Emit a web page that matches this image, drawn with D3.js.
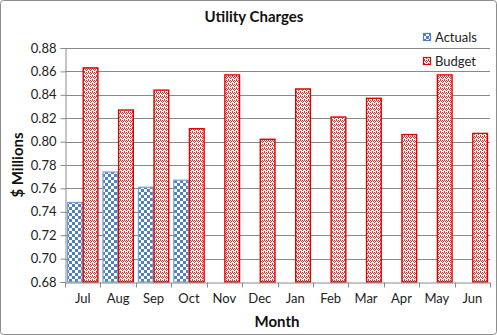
<!DOCTYPE html>
<html>
<head>
<meta charset="utf-8">
<script src="https://cdn.jsdelivr.net/npm/d3@7"></script>
<style>
  html, body { margin: 0; padding: 0; background: #fff; }
  svg { display: block; font-family: Lato, "Open Sans", "Liberation Sans", sans-serif; }
</style>
</head>
<body>
<svg id="chart" width="497" height="335"></svg>
<script>
// Monthly utility charges, $ millions
const months = ["Jul", "Aug", "Sep", "Oct", "Nov", "Dec", "Jan", "Feb", "Mar", "Apr", "May", "Jun"];
const actuals = [0.748, 0.774, 0.761, 0.767, null, null, null, null, null, null, null, null];
const budget = [0.863, 0.827, 0.844, 0.811, 0.857, 0.802, 0.845, 0.821, 0.837, 0.806, 0.857, 0.807];
const yTicks = [0.68, 0.70, 0.72, 0.74, 0.76, 0.78, 0.80, 0.82, 0.84, 0.86, 0.88];
const seriesNames = ["Actuals", "Budget"];

const svg = d3.select("#chart");
const margin = { left: 65, right: 7, top: 48, bottom: 53 };
const W = 497, H = 335;

// Fill patterns
const defs = svg.append("defs");
const checker = defs.append("pattern").attr("id", "checker")
  .attr("patternUnits", "userSpaceOnUse").attr("width", 6).attr("height", 6);
checker.append("rect").attr("width", 6).attr("height", 6).attr("fill", "#fff");
checker.append("rect").attr("width", 3).attr("height", 3).attr("fill", "#4f81bd");
checker.append("rect").attr("x", 3).attr("y", 3).attr("width", 3).attr("height", 3).attr("fill", "#4f81bd");

const weave = defs.append("pattern").attr("id", "weave")
  .attr("patternUnits", "userSpaceOnUse").attr("width", 4).attr("height", 4);
weave.append("rect").attr("width", 4).attr("height", 4).attr("fill", "#fff");
[[0,0],[1,1],[2,2],[3,1],[0,3],[2,0]].forEach(([px, py]) =>
  weave.append("rect").attr("x", px).attr("y", py).attr("width", 1).attr("height", 1).attr("fill", "#e03030"));

// Outer frame
svg.append("rect").attr("x", 0.5).attr("y", 0.5).attr("width", W - 1).attr("height", H - 1)
  .attr("rx", 3).attr("fill", "#fff").attr("stroke", "#8c8c8c");

const x = d3.scaleBand().domain(months).range([margin.left, W - margin.right]).paddingInner(0).paddingOuter(0);
const y = d3.scaleLinear().domain([0.68, 0.88]).range([H - margin.bottom, margin.top]);

// Horizontal gridlines
svg.append("g").selectAll("line").data(yTicks.slice(1)).join("line")
  .attr("x1", margin.left).attr("x2", W - margin.right)
  .attr("y1", d => Math.round(y(d)) + 0.5).attr("y2", d => Math.round(y(d)) + 0.5)
  .attr("stroke", "#8a8a8a").attr("stroke-width", 1);

// Bars
const inner = d3.scaleBand().domain(seriesNames).range([0, x.bandwidth()]).paddingOuter(0.13).paddingInner(0);
const bw = inner.bandwidth();

svg.append("g").selectAll("rect").data(months.map((m, i) => ({ m, v: actuals[i] })).filter(d => d.v != null))
  .join("rect")
  .attr("x", d => x(d.m) + inner("Actuals") + 0.5)
  .attr("y", d => y(d.v))
  .attr("width", bw - 1)
  .attr("height", d => y(0.68) - y(d.v))
  .attr("fill", "url(#checker)").attr("stroke", "#7aa0d4").attr("stroke-width", 1.2);

svg.append("g").selectAll("rect").data(months.map((m, i) => ({ m, v: budget[i] })))
  .join("rect")
  .attr("x", d => x(d.m) + inner("Budget") + 0.5)
  .attr("y", d => y(d.v))
  .attr("width", bw - 1)
  .attr("height", d => y(0.68) - y(d.v))
  .attr("fill", "url(#weave)").attr("stroke", "#e00000").attr("stroke-width", 1.4);

// Y axis
const yAxis = svg.append("g").attr("transform", `translate(${margin.left + 0.5},0)`)
  .call(d3.axisLeft(y).tickValues(yTicks).tickFormat(d3.format(".2f")).tickSizeOuter(0).tickSize(5));
yAxis.select(".domain").attr("stroke", "#8a8a8a");
yAxis.selectAll(".tick line").attr("stroke", "#8a8a8a");
yAxis.selectAll(".tick text").attr("font-size", 13).attr("fill", "#222").attr("x", -9)
  .style("font-family", "Lato, 'Open Sans', sans-serif");

// X axis
const xAxis = svg.append("g").attr("transform", `translate(0,${Math.round(y(0.68)) + 0.5})`)
  .call(d3.axisBottom(x).tickSize(0).tickPadding(11));
xAxis.select(".domain").attr("stroke", "#8a8a8a");
xAxis.selectAll(".tick text").attr("font-size", 13).attr("fill", "#222")
  .style("font-family", "Lato, 'Open Sans', sans-serif");
xAxis.append("g").selectAll("line").data(d3.range(months.length + 1)).join("line")
  .attr("x1", i => Math.round(margin.left + i * x.step()) + 0.5)
  .attr("x2", i => Math.round(margin.left + i * x.step()) + 0.5)
  .attr("y1", 0).attr("y2", 5).attr("stroke", "#8a8a8a");

// Titles
svg.append("text").attr("x", 254).attr("y", 22).attr("text-anchor", "middle")
  .attr("font-size", 15).attr("font-weight", "bold").attr("fill", "#111").text("Utility Charges");
svg.append("text").attr("x", 277).attr("y", 327).attr("text-anchor", "middle")
  .attr("font-size", 15).attr("font-weight", "bold").attr("fill", "#111").text("Month");
svg.append("text").attr("transform", "translate(23,165) rotate(-90)").attr("text-anchor", "middle")
  .attr("font-size", 15).attr("font-weight", "bold").attr("fill", "#111").text("$ Millions");

// Legend
const legend = svg.append("g");
const legendItems = [
  { name: "Actuals", fill: "url(#checker)", stroke: "#4f81bd", cy: 37 },
  { name: "Budget", fill: "url(#weave)", stroke: "#e00000", cy: 61 }
];
legendItems.forEach(it => {
  legend.append("rect").attr("x", 423.5).attr("y", it.cy - 3.5).attr("width", 7).attr("height", 7)
    .attr("fill", it.fill).attr("stroke", it.stroke).attr("stroke-width", 1.2);
  legend.append("text").attr("x", 435).attr("y", it.cy + 4.5).attr("font-size", 13).attr("fill", "#222").text(it.name);
});
</script>
</body>
</html>
